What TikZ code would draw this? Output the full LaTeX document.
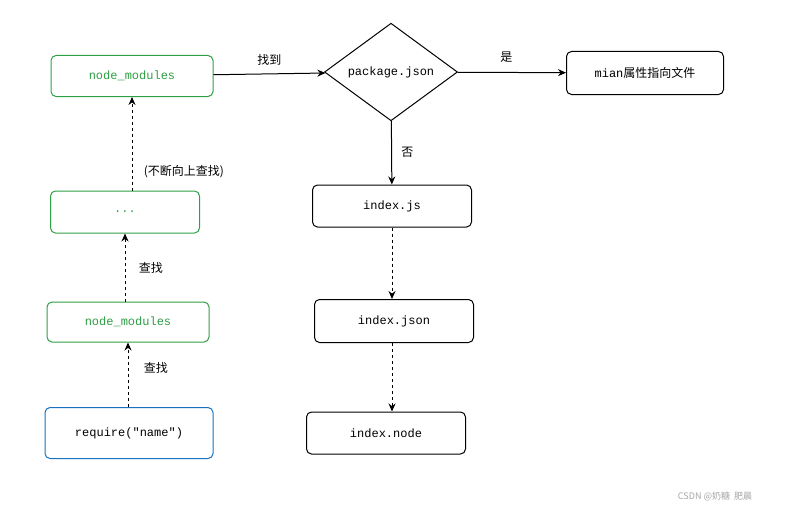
\documentclass[tikz,border=0pt]{standalone}
\usepackage{fontspec}
\setmonofont{Liberation Mono}
\setmainfont{Noto Sans CJK SC}
\usetikzlibrary{arrows.meta,shapes.geometric}
\definecolor{boxgreen}{RGB}{47,158,68}
\definecolor{boxblue}{RGB}{25,113,194}
\tikzstyle{box} = [rectangle, draw, line width=1pt, rounded corners=5pt, minimum height=41pt, font=\ttfamily\fontsize{12}{14}\selectfont]
\tikzset{edge/.style = {
    line width=1pt, -{Stealth[length=8pt,width=7pt]},
  },
  dedge/.style = {edge, dashed},
  lbl/.style = {font=\fontsize{12}{14}\selectfont}
}
\begin{document}
\begin{tikzpicture}[x=1pt,y=-1pt]
            \useasboundingbox (0,0) rectangle (792,511);

            % vertices
            \node[box, draw=boxgreen, text=boxgreen, minimum width=162pt] (nm1) at (132,76) {node\_modules};
            \node[diamond, draw, line width=1pt, minimum width=133pt, minimum height=61pt, inner sep=0pt, font=\ttfamily\fontsize{12}{14}\selectfont] (pkg) at (391,72) {package.json};
            \node[box, minimum width=157pt, minimum height=43pt] (main) at (645,73) {mian{\rmfamily 属性指向文件}};
            \node[box, draw=boxgreen, text=boxgreen, minimum width=149pt, minimum height=42pt] (dots) at (125,212) {...};
            \node[box, minimum width=159pt, minimum height=42pt] (js) at (392,206) {index.js};
            \node[box, draw=boxgreen, text=boxgreen, minimum width=162pt, minimum height=40pt] (nm2) at (128,322) {node\_modules};
            \node[box, minimum width=159pt, minimum height=43pt] (json) at (394,321) {index.json};
            \node[box, draw=boxblue, minimum width=168pt, minimum height=51pt] (req) at (129,433) {require("name")};
            \node[box, minimum width=159pt, minimum height=42pt] (nd) at (386,433) {index.node};

            % lines
            \draw[edge] (nm1) -- node[lbl, above=5pt] {找到} (pkg);
            \draw[edge] (pkg) -- node[lbl, above=6pt, pos=0.45] {是} (main);
            \draw[edge] (pkg) -- node[lbl, right=6pt] {否} (js);
            \draw[dedge] (js.south) -- (js.south |- json.north);
            \draw[dedge] (json.south -| js) -- (js |- nd.north);
            \draw[dedge] (req.north -| nm2) -- node[lbl, right=12pt, pos=0.6] {查找} (nm2.south);
            \draw[dedge] (nm2.north -| dots) -- node[lbl, right=10pt] {查找} (dots.south);
            \draw[dedge] (dots.north -| nm1) -- node[lbl, right=8pt, pos=0.2] {(不断向上查找)} (nm1.south);

            \node[text=gray!70, font=\small] (mark) at (715,496) {CSDN @奶糖\ \ 肥晨};
          \end{tikzpicture}
\end{document}
